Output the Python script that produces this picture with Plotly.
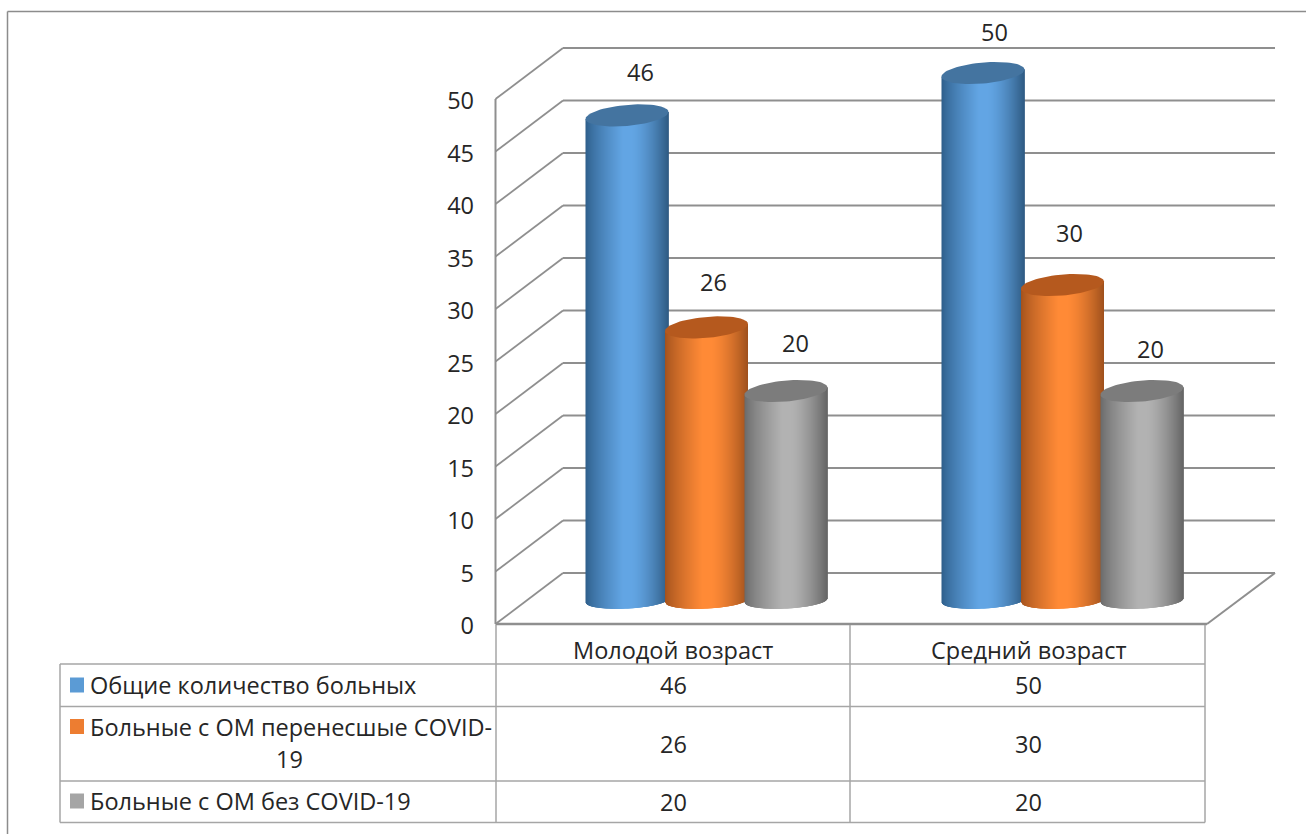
import numpy as np
import plotly.graph_objects as go

# Chart data
categories = ["Молодой возраст", "Средний возраст"]
series_names = [
    "Общие количество больных",
    "Больные с ОМ перенесшые COVID-19",
    "Больные с ОМ без COVID-19",
]
total_patients = [46, 50]
om_after_covid = [26, 30]
om_no_covid = [20, 20]
all_series = [total_patients, om_after_covid, om_no_covid]
y_ticks = list(range(0, 55, 5))

# Canvas and the linear mapping of both axes
W, H = 1306, 834
PX_PER_UNIT = 10.5          # vertical pixels per axis unit
Y_ZERO_PX = 624             # pixel row of value 0 on the front axis
CAT_PITCH = 356             # pixels between the two category groups
CAT_ZERO_PX = 706.5         # pixel column of the first group's centre

x_range = [(0 - CAT_ZERO_PX) / CAT_PITCH, (W - CAT_ZERO_PX) / CAT_PITCH]
y_range = [(Y_ZERO_PX - H) / PX_PER_UNIT, Y_ZERO_PX / PX_PER_UNIT]

# Oblique projection of the 3D box
WALL_DEPTH = 51 / PX_PER_UNIT
FRONT_X, BACK_X, RIGHT_BACK_X, RIGHT_FRONT_X = 495.5, 563, 1275, 1207

# Cylinder geometry
BAR_SHIFT_PX = 79.5
BAR_HALF_PX = 41.5
BASE_LEVEL = (Y_ZERO_PX - 600.5) / PX_PER_UNIT
TOP_OFFSET = (Y_ZERO_PX - 603) / PX_PER_UNIT
TOP_SCALE = 1.0095
TOP_RY, TOP_SHEAR = 10.5 / PX_PER_UNIT, 3.5 / PX_PER_UNIT
BASE_RY, BASE_SHEAR = 8 / PX_PER_UNIT, 2 / PX_PER_UNIT

# (edge left, centre, edge right, cap colour, swatch)
palette = [
    ((44, 92, 136), (98, 165, 228), (46, 90, 130), (68, 116, 160), "#5B9BD5"),
    ((160, 80, 28), (255, 138, 54), (158, 80, 28), (181, 89, 30), "#ED7D31"),
    ((104, 104, 104), (178, 178, 178), (100, 100, 100), (124, 124, 124), "#A5A5A5"),
]

# Per-label nudges of the value labels in pixels, by series then category
label_dx = [[13, 11.5], [6.5, 6.5], [9, 8.5]]
label_dy = [[-43.5, -41], [-45, -52], [-48, -42]]

TEXT = "#262626"
LINE = "#8f8f8f"
TABLE = "#a6a6a6"
FONT = "Open Sans"
FONT_SIZE = 23.5


def mix(a, b, t):
    return tuple(a[i] + (b[i] - a[i]) * t for i in range(3))


def shade(t, left, mid, right):
    """Colour across the cylinder: dark rims, a broad light band in the middle."""
    if t < 0.45:
        c = mix(left, mid, (t / 0.45) ** 0.75)
    elif t < 0.55:
        c = mid
    else:
        c = mix(mid, right, ((t - 0.55) / 0.45) ** 1.5)
    return "rgb({:.0f},{:.0f},{:.0f})".format(*c)


def px(x):
    return x / W


def py(y):
    return 1 - y / H


def cat_x(pixel):
    return (pixel - CAT_ZERO_PX) / CAT_PITCH


fig = go.Figure()

# Cylinders, one pixel-wide filled strip at a time so the shading reads as a gradient
for si, values in enumerate(all_series):
    left, mid, right, cap, _ = palette[si]
    for ci, value in enumerate(values):
        cx_px = CAT_ZERO_PX + ci * CAT_PITCH + (si - 1) * BAR_SHIFT_PX
        p0, p1 = cx_px - BAR_HALF_PX, cx_px + BAR_HALF_PX
        top = value * TOP_SCALE + TOP_OFFSET
        columns = np.arange(np.floor(p0), np.ceil(p1))
        for col in columns:
            a = max(col, p0)
            b = min(col + 3, p1)    # runs under the next strips to hide seams
            us = (np.array([a, b]) - cx_px) / BAR_HALF_PX
            xs = cat_x(np.array([a, b]))
            y_low = BASE_LEVEL + BASE_SHEAR * us - BASE_RY * np.sqrt(np.clip(1 - us**2, 0, 1))
            y_up = top + TOP_SHEAR * us
            fig.add_trace(go.Scatter(
                x=[xs[0], xs[1], xs[1], xs[0], xs[0]],
                y=[y_low[0], y_low[1], y_up[1], y_up[0], y_low[0]],
                mode="lines", fill="toself", line=dict(width=0),
                fillcolor=shade((col + 0.5 - p0) / (p1 - p0), left, mid, right),
                hoverinfo="skip", showlegend=False,
            ))
        th = np.linspace(0, 2 * np.pi, 73)
        fig.add_trace(go.Scatter(
            x=cat_x(cx_px + BAR_HALF_PX * np.cos(th)),
            y=top + TOP_SHEAR * np.cos(th) + TOP_RY * np.sin(th),
            mode="lines", fill="toself", line=dict(width=0),
            fillcolor="rgb({},{},{})".format(*cap),
            hoverinfo="skip", showlegend=False,
        ))

shapes = []


def seg(x0, y0, x1, y1, color=LINE, width=1.5, yref="paper", layer="below"):
    shapes.append(dict(type="line", xref="paper", yref=yref,
                       x0=px(x0), x1=px(x1), y0=y0, y1=y1,
                       line=dict(color=color, width=width), layer=layer))


# Outer frame of the figure
seg(7.5, py(11.5), W, py(11.5), color="#8c8c8c")
seg(7.5, py(11.5), 7.5, 0, color="#8c8c8c")

# Back wall gridlines and the diagonals of the side wall, in axis units
for v in y_ticks:
    seg(BACK_X, v + WALL_DEPTH, RIGHT_BACK_X, v + WALL_DEPTH, yref="y", width=2)
    seg(FRONT_X, v, BACK_X, v + WALL_DEPTH, yref="y", width=1.8)
seg(FRONT_X, y_ticks[0], FRONT_X, y_ticks[-1], yref="y", width=2)
seg(FRONT_X, 0, RIGHT_FRONT_X, 0, yref="y", width=2.5)
seg(RIGHT_FRONT_X, 0, RIGHT_BACK_X, WALL_DEPTH, yref="y", width=2)

# Data table grid
T_LEFT, T_SPLIT, T_MID, T_RIGHT = 60, 496, 850, 1205
T_TOP, R1, R2, R3, T_BOTTOM = 625, 664, 706.5, 781, 822.5
for y in (R1, R2, R3, T_BOTTOM):
    seg(T_LEFT, py(y), T_RIGHT, py(y), color=TABLE)
seg(T_LEFT, py(R1), T_LEFT, py(T_BOTTOM), color=TABLE)
for x in (T_SPLIT, T_MID, T_RIGHT):
    seg(x, py(T_TOP), x, py(T_BOTTOM), color=TABLE)

# Legend keys inside the table
key_rows = [685, 726.5, 801]
for (*_, swatch), yc in zip(palette, key_rows):
    shapes.append(dict(type="rect", xref="paper", yref="paper",
                       x0=px(70), x1=px(84), y0=py(yc - 7.5), y1=py(yc + 7.5),
                       fillcolor=swatch, line=dict(width=0), layer="above"))

annotations = []


def note(text, x, y, anchor="center"):
    annotations.append(dict(text=text, xref="paper", yref="paper", x=px(x), y=py(y),
                            xanchor=anchor, yanchor="middle", showarrow=False,
                            font=dict(family=FONT, size=FONT_SIZE, color=TEXT)))


# Value labels above the cylinders
for si, values in enumerate(all_series):
    for ci, value in enumerate(values):
        annotations.append(dict(
            text=str(value), xref="x", yref="y",
            x=ci + (si - 1) * BAR_SHIFT_PX / CAT_PITCH,
            y=value * TOP_SCALE + TOP_OFFSET,
            xshift=label_dx[si][ci], yshift=-label_dy[si][ci],
            xanchor="center", yanchor="middle", showarrow=False,
            font=dict(family=FONT, size=FONT_SIZE, color=TEXT),
        ))

# Table contents
col_centres = [673, 1028]
for cat, xc in zip(categories, col_centres):
    note(cat, xc, 650)
value_rows = [685, 744, 802]
for values, yc in zip(all_series, value_rows):
    for value, xc in zip(values, col_centres):
        note(str(value), xc, yc)
note(series_names[0], 88, 685, "left")
note("Больные с ОМ перенесшые COVID-", 88, 727, "left")
note("19", 289, 759)
note(series_names[2], 88, 801, "left")

fig.update_layout(
    width=W, height=H,
    margin=dict(l=0, r=0, t=0, b=0),
    paper_bgcolor="white", plot_bgcolor="white",
    showlegend=False,
    shapes=shapes, annotations=annotations,
    xaxis=dict(range=x_range, visible=False, domain=[0, 1], fixedrange=True),
    yaxis=dict(
        range=y_range, domain=[0, 1], anchor="free", position=474 / W,
        tickmode="array", tickvals=y_ticks, ticktext=[str(v) for v in y_ticks],
        ticks="", ticklabelshift=2,
        showgrid=False, zeroline=False, showline=False, fixedrange=True,
        tickfont=dict(family=FONT, size=FONT_SIZE, color=TEXT),
    ),
)

fig.write_html("out.html", config=dict(displayModeBar=False))
